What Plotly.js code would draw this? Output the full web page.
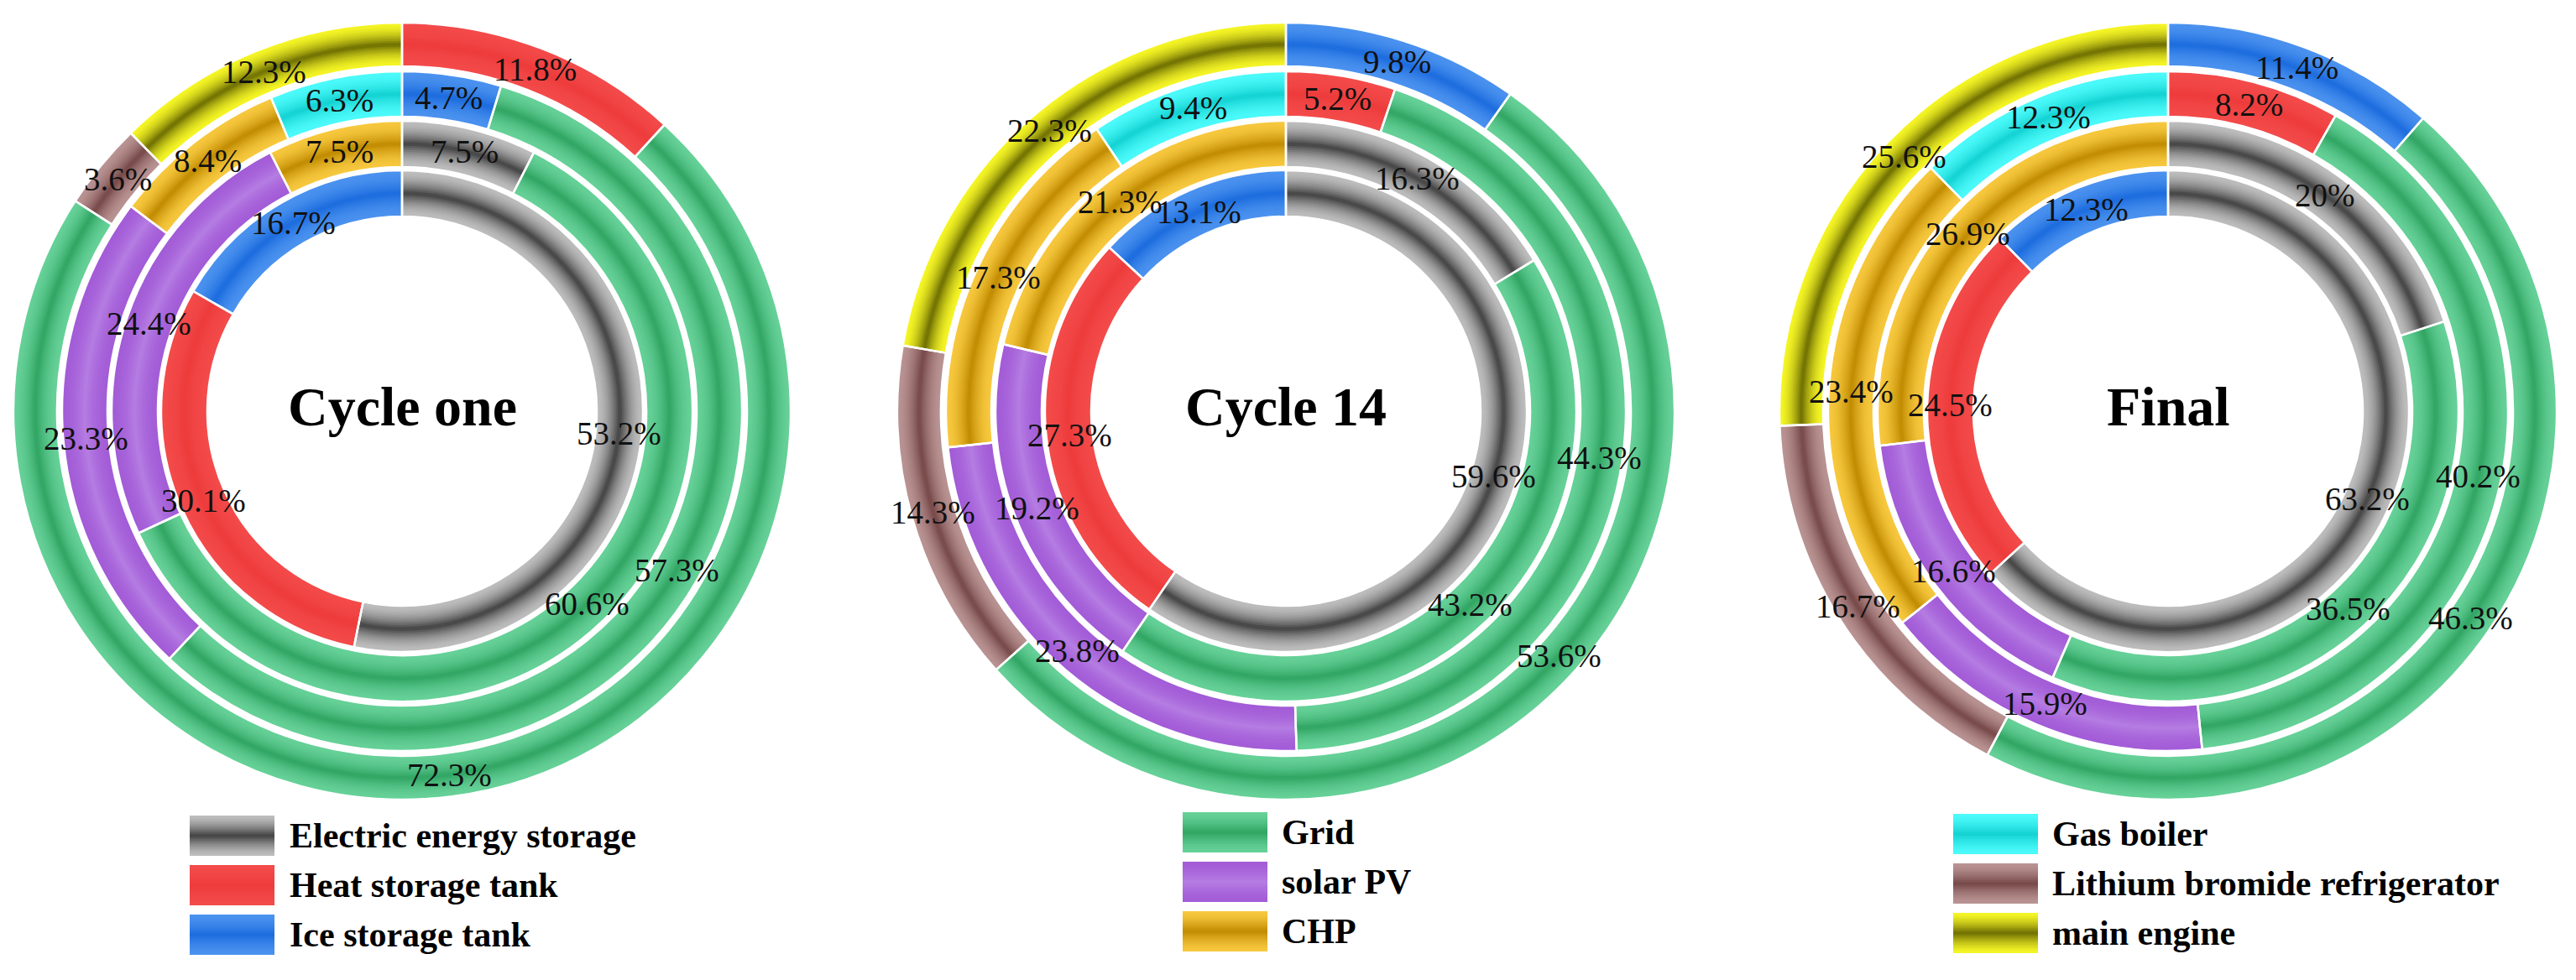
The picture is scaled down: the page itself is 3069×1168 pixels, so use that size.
<!DOCTYPE html>
<html>
<head>
<meta charset="utf-8">
<script src="https://cdn.plot.ly/plotly-3.0.1.min.js"></script>
<style>
html, body { margin: 0; padding: 0; background: #ffffff; }
#chart { width: 3069px; height: 1168px; }
</style>
</head>
<body>
<div id="chart"></div>
<script>
// ---------------- DATA ----------------
const chartTitles = ['Cycle one', 'Cycle 14', 'Final'];

// category labels per ring (innermost ring first), slices listed clockwise from 12 o'clock
const cycleOneRing1Labels = ['Electric energy storage', 'Heat storage tank', 'Ice storage tank'];
const cycleOneRing2Labels = ['Electric energy storage', 'Grid', 'solar PV', 'CHP'];
const cycleOneRing3Labels = ['Ice storage tank', 'Grid', 'solar PV', 'CHP', 'Gas boiler'];
const cycleOneRing4Labels = ['Heat storage tank', 'Grid', 'Lithium bromide refrigerator', 'main engine'];

const laterRing1Labels = ['Electric energy storage', 'Heat storage tank', 'Ice storage tank'];
const laterRing2Labels = ['Electric energy storage', 'Grid', 'solar PV', 'CHP'];
const laterRing3Labels = ['Heat storage tank', 'Grid', 'solar PV', 'CHP', 'Gas boiler'];
const laterRing4Labels = ['Ice storage tank', 'Grid', 'Lithium bromide refrigerator', 'main engine'];

// values (%)
const cycleOneRing1 = [53.2, 30.1, 16.7];
const cycleOneRing2 = [7.5, 60.6, 24.4, 7.5];
const cycleOneRing3 = [4.7, 57.3, 23.3, 8.4, 6.3];
const cycleOneRing4 = [11.8, 72.3, 3.6, 12.3];

const cycle14Ring1 = [59.6, 27.3, 13.1];
const cycle14Ring2 = [16.3, 43.2, 19.2, 21.3];
const cycle14Ring3 = [5.2, 44.3, 23.8, 17.3, 9.4];
const cycle14Ring4 = [9.8, 53.6, 14.3, 22.3];

const finalRing1 = [63.2, 24.5, 12.3];
const finalRing2 = [20, 36.5, 16.6, 26.9];
const finalRing3 = [8.2, 40.2, 15.9, 23.4, 12.3];
const finalRing4 = [11.4, 46.3, 16.7, 25.6];

// legend columns
const legendCol1 = ['Electric energy storage', 'Heat storage tank', 'Ice storage tank'];
const legendCol2 = ['Grid', 'solar PV', 'CHP'];
const legendCol3 = ['Gas boiler', 'Lithium bromide refrigerator', 'main engine'];

// ---------------- STYLE ----------------
// [edge colour, centre colour] for the shaded look
const palette = {
  'Electric energy storage': ['#bdbdbd', '#4a4a4a'],
  'Heat storage tank': ['#f34a4a', '#ee3c3c'],
  'Ice storage tank': ['#4b92ef', '#1e6edf'],
  'Grid': ['#66d198', '#33a766'],
  'solar PV': ['#a35cd7', '#b47be2'],
  'CHP': ['#f7c83e', '#c38e04'],
  'Gas boiler': ['#4cfafa', '#16d4d4'],
  'Lithium bromide refrigerator': ['#b99393', '#7a4c4c'],
  'main engine': ['#f5f526', '#767604']
};

const W = 3069, H = 1168;
const centersX = [479, 1532, 2583];
const centerY = 490;
const ringOuter = [287, 346, 405, 463];
const ringInner = [232, 291, 351, 411];
const LAYERS = 12;
const RING_SHADE_POWER = 1.7;
const BOX_SHADE_POWER = 1.4;

function hexToRgb(h) {
  const n = parseInt(h.slice(1), 16);
  return [(n >> 16) & 255, (n >> 8) & 255, n & 255];
}
function mix(c1, c2, f) {
  const a = hexToRgb(c1), b = hexToRgb(c2);
  const r = a.map((v, i) => Math.round(v + (b[i] - v) * f));
  return 'rgb(' + r.join(',') + ')';
}

const charts = [
  { labels: [cycleOneRing1Labels, cycleOneRing2Labels, cycleOneRing3Labels, cycleOneRing4Labels],
    values: [cycleOneRing1, cycleOneRing2, cycleOneRing3, cycleOneRing4] },
  { labels: [laterRing1Labels, laterRing2Labels, laterRing3Labels, laterRing4Labels],
    values: [cycle14Ring1, cycle14Ring2, cycle14Ring3, cycle14Ring4] },
  { labels: [laterRing1Labels, laterRing2Labels, laterRing3Labels, laterRing4Labels],
    values: [finalRing1, finalRing2, finalRing3, finalRing4] }
];

const traces = [];
const annotations = [];
const shapes = [];

function pieDomain(cx, cy, r) {
  return {
    x: [(cx - r) / W, (cx + r) / W],
    y: [1 - (cy + r) / H, 1 - (cy - r) / H]
  };
}

charts.forEach((ch, ci) => {
  const cx = centersX[ci];
  for (let ri = 0; ri < 4; ri++) {
    const labels = ch.labels[ri];
    const vals = ch.values[ri];
    const ro = ringOuter[ri], rin = ringInner[ri];
    const mid = (ro + rin) / 2, half = (ro - rin) / 2;
    for (let k = 0; k < LAYERS; k++) {
      const w = half * (1 - k / LAYERS);
      const outer = mid + w, inner = mid - w;
      const f = Math.pow(k / (LAYERS - 1), RING_SHADE_POWER);
      traces.push({
        type: 'pie',
        labels: labels,
        values: vals,
        sort: false,
        direction: 'clockwise',
        rotation: 0,
        hole: inner / outer,
        domain: pieDomain(cx, centerY, outer),
        marker: { colors: labels.map(l => mix(palette[l][0], palette[l][1], f)), line: { width: 0 } },
        textinfo: 'none',
        hoverinfo: 'none',
        showlegend: false
      });
    }
    // white separators
    traces.push({
      type: 'pie',
      labels: labels,
      values: vals,
      sort: false,
      direction: 'clockwise',
      rotation: 0,
      hole: rin / ro,
      domain: pieDomain(cx, centerY, ro),
      marker: { colors: labels.map(() => 'rgba(0,0,0,0)'), line: { color: '#ffffff', width: 2.5 } },
      textinfo: 'none',
      hoverinfo: 'none',
      showlegend: false
    });
    // percentage labels at the middle of each slice
    const total = vals.reduce((a, b) => a + b, 0);
    let cum = 0;
    vals.forEach(v => {
      const ang = 2 * Math.PI * (cum + v / 2) / total;
      cum += v;
      const x = cx + mid * Math.sin(ang);
      const y = centerY - mid * Math.cos(ang);
      annotations.push({
        xref: 'paper', yref: 'paper', x: x / W, y: 1 - y / H,
        xanchor: 'center', yanchor: 'middle', showarrow: false,
        text: v + '%',
        font: { family: 'Liberation Serif, Times New Roman, serif', size: 39, color: '#111111' }
      });
    });
  }
  annotations.push({
    xref: 'paper', yref: 'paper', x: cx / W, y: 1 - 484 / H,
    xanchor: 'center', yanchor: 'middle', showarrow: false,
    text: '<b>' + chartTitles[ci] + '</b>',
    font: { family: 'Liberation Serif, Times New Roman, serif', size: 66, color: '#000000' }
  });
});

// legend (three columns of shaded boxes)
const legendCols = [
  { items: legendCol1, box: [226, 327], textX: 343, rows: [996, 1055, 1114] },
  { items: legendCol2, box: [1409, 1510], textX: 1525, rows: [992, 1051, 1110] },
  { items: legendCol3, box: [2327, 2428], textX: 2443, rows: [994, 1053, 1112] }
];
legendCols.forEach(col => {
  col.items.forEach((name, i) => {
    const yc = col.rows[i];
    const hh = 24;
    for (let k = 0; k < LAYERS; k++) {
      const h = hh * (1 - k / LAYERS);
      shapes.push({
        type: 'rect', xref: 'paper', yref: 'paper',
        x0: col.box[0] / W, x1: col.box[1] / W,
        y0: 1 - (yc + h) / H, y1: 1 - (yc - h) / H,
        fillcolor: mix(palette[name][0], palette[name][1], Math.pow(k / (LAYERS - 1), BOX_SHADE_POWER)),
        line: { width: 0 }, layer: 'above'
      });
    }
    annotations.push({
      xref: 'paper', yref: 'paper', x: col.textX / W, y: 1 - yc / H,
      xanchor: 'left', yanchor: 'middle', showarrow: false,
      text: '<b>' + name + '</b>',
      font: { family: 'Liberation Serif, Times New Roman, serif', size: 42, color: '#000000' }
    });
  });
});

const layout = {
  width: W, height: H,
  margin: { l: 0, r: 0, t: 0, b: 0 },
  paper_bgcolor: '#ffffff',
  plot_bgcolor: '#ffffff',
  showlegend: false,
  annotations: annotations,
  shapes: shapes
};

Plotly.newPlot('chart', traces, layout, { displayModeBar: false, staticPlot: true });
</script>
</body>
</html>
